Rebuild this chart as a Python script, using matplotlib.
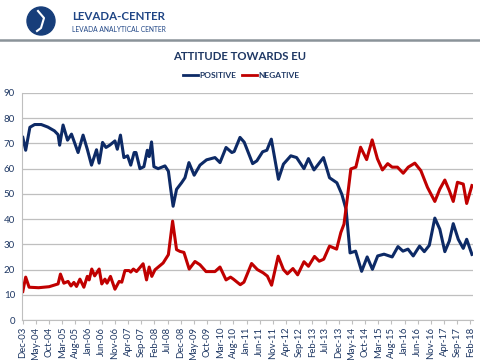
import matplotlib
matplotlib.use("Agg")
import matplotlib.pyplot as plt
from matplotlib.lines import Line2D
from matplotlib.patches import Ellipse

# ── Data (month offsets from Dec-03, values in %) ────────────────────────────
pos_months = [0, 1.1, 2.7, 4.5, 7, 9.5, 12, 13.4, 14, 15.3, 17, 18.5, 21, 22.9,
              24.5, 26.1, 28, 29, 30.3, 31.6, 33, 35, 35.9, 37.1, 38.4, 39.8,
              41, 42.3, 43, 44.5, 46, 47.3, 48, 48.9, 49.8, 51.4, 54, 55.3,
              56.2, 57.1, 58.4, 60.3, 61.6, 63.1, 65.1, 67.3, 69.8, 73, 74.9,
              77.2, 79.4, 80.3, 82.5, 84.1, 87.3, 88.9, 91.1, 92.7, 94.4, 97.1,
              99, 101.8, 104, 106.8, 108.5, 110.6, 114.2, 116.5, 119.3, 121.2,
              122.8, 124.3, 126.4, 128.7, 130.8, 132.8, 134.8, 137.2, 140.3,
              142.5, 144.4, 146.3, 148.3, 150.7, 152.5, 154.4, 156.5, 158.4,
              160.3, 162, 163.5, 165.4, 167.3, 168.6, 170.6]
pos_values = [72.4, 67.3, 76.4, 77.5, 77.5, 76.5, 75, 73.5, 69.3, 77.3, 71.3,
              73.7, 66.4, 73.3, 67.7, 61.4, 67.5, 62.2, 70.4, 68.4, 69.3, 71,
              67.7, 73.3, 64.4, 65.1, 61.4, 66.4, 66.4, 60, 60.8, 67.3, 64.8,
              70.6, 60.8, 60, 61.1, 59, 51.8, 45.1, 51.8, 54.4, 56.4, 62.4,
              57.4, 61.4, 63.5, 64.4, 62.4, 68.4, 66.4, 66.8, 72.4, 70.5, 62,
              63.1, 66.7, 67.3, 71.7, 55.8, 61.8, 65.1, 64.4, 60, 64, 59.5,
              64.4, 56.4, 54.4, 49.8, 43.8, 26.6, 27.3, 19.3, 25, 20.1, 25.4,
              26.1, 25, 29.1, 27.3, 28.1, 25.4, 29.3, 27.1, 29.6, 40.4, 36,
              27.1, 31.3, 38.2, 32, 28.4, 32, 26]

neg_months = [0, 1.1, 2.4, 6, 10, 13.4, 14.3, 15.6, 17.2, 18.3, 19.4, 20.4,
              21.7, 23.2, 24.5, 25.2, 26.2, 27.3, 29, 30, 31.2, 32, 33.3, 35,
              36.6, 37.6, 38.8, 40.4, 41, 42, 43.2, 45.7, 47, 48, 49, 50.2,
              53.3, 55.3, 56.9, 58.4, 59.7, 61.2, 63.2, 65.4, 67.3, 69.6, 73,
              74.9, 77.2, 78.9, 80, 82.6, 84, 86.9, 89.1, 91.3, 92.9, 94.5,
              97, 99, 100.5, 102.6, 104.4, 106.8, 108.5, 110.8, 112.6, 114.3,
              116.5, 119.2, 120.8, 122, 123.3, 124.6, 126.5, 128.3, 130.6,
              132.7, 134.7, 136.6, 138.6, 140.3, 142.3, 144.5, 146.4, 148.9,
              151.2, 153.7, 156.5, 158.4, 160.3, 162, 163.5, 165.1, 167.3,
              168.6, 170.6]
neg_values = [11.3, 17, 13, 12.8, 13.2, 14.3, 18.2, 14.6, 15.3, 13.5, 14.9,
              13.3, 16.2, 13, 17.3, 15.9, 20.2, 17.5, 20.2, 14.3, 16.2, 14.6,
              17.3, 12.2, 15.3, 15, 19.6, 19.6, 19, 20.2, 19.2, 22.3, 15.9, 21,
              17.3, 19.9, 22.6, 25.9, 39.2, 27.9, 27.2, 26.8, 20.2, 23.2, 21.9,
              19.2, 19.2, 21, 15.9, 17, 16.2, 14, 15, 22.4, 20, 18.7, 17.4,
              13.8, 25.3, 20, 18.3, 20.4, 17.9, 23.1, 21.3, 25.2, 23.3, 24.1,
              29.3, 28.1, 34.7, 38, 48.6, 59.9, 60.6, 68.5, 63.6, 71.4, 63.9,
              59.5, 62, 60.6, 60.6, 58.2, 60.6, 62.2, 59.2, 52.6, 47, 51.9,
              55.5, 51.3, 47, 54.6, 53.9, 46.2, 53.3]

tick_months = list(range(0, 171, 5))
tick_labels = ["Dec-03", "May-04", "Oct-04", "Mar-05", "Aug-05", "Jan-06",
               "Jun-06", "Nov-06", "Apr-07", "Sep-07", "Feb-08", "Jul-08",
               "Dec-08", "May-09", "Oct-09", "Mar-10", "Aug-10", "Jan-11",
               "Jun-11", "Nov-11", "Apr-12", "Sep-12", "Feb-13", "Jul-13",
               "Dec-13", "May-14", "Oct-14", "Mar-15", "Aug-15", "Jan-16",
               "Jun-16", "Nov-16", "Apr-17", "Sep-17", "Feb-18"]

C_POS = "#0d2a66"
C_NEG = "#c00000"
C_TXT = "#1f3864"
C_GRID = "#bfbfbf"

plt.rcParams["font.family"] = ["Lato", "DejaVu Sans"]

W, H = 480, 360
fig = plt.figure(figsize=(4.8, 3.6), dpi=100)


def fx(px):
    return px / W


def fy(py):
    return 1 - py / H


# ── Header ───────────────────────────────────────────────────────────────────
fig.add_artist(Ellipse((fx(41), fy(21)), 28 / W, 28 / H, color="#173e7a",
                       transform=fig.transFigure))
fig.add_artist(Line2D([fx(38), fx(44), fx(41), fx(37)],
                      [fy(11), fy(18), fy(28), fy(31)], color="white", lw=1.5,
                      transform=fig.transFigure))
fig.text(fx(72), fy(16), "LEVADA-CENTER", fontsize=8.3, fontweight="bold",
         color="#1f4585", va="center", ha="left")
fig.text(fx(72), fy(29), "LEVADA ANALYTICAL CENTER", fontsize=4.8,
         color="#1f4585", va="center", ha="left")
fig.add_artist(Line2D([0, 1], [fy(40), fy(40)], color="#8a9399", lw=1.8,
                      transform=fig.transFigure))

fig.text(0.5, fy(56), "ATTITUDE TOWARDS EU", fontsize=8.2, fontweight="bold",
         color=C_TXT, ha="center", va="center")

# legend (manual, centred like the original)
fig.add_artist(Line2D([fx(183), fx(198)], [fy(75), fy(75)], color=C_POS,
                      lw=2, transform=fig.transFigure))
fig.text(fx(199), fy(75), "POSITIVE", fontsize=6, color=C_TXT,
         fontweight="bold", va="center", ha="left")
fig.add_artist(Line2D([fx(242), fx(257)], [fy(75), fy(75)], color=C_NEG,
                      lw=2, transform=fig.transFigure))
fig.text(fx(258), fy(75), "NEGATIVE", fontsize=6, color=C_TXT,
         fontweight="bold", va="center", ha="left")

# ── Plot ─────────────────────────────────────────────────────────────────────
ax = fig.add_axes([fx(22), fy(320), (473 - 22) / W, (320 - 93) / H])
ax.plot(pos_months, pos_values, color=C_POS, lw=2.2, solid_joinstyle="round")
ax.plot(neg_months, neg_values, color=C_NEG, lw=2.2, solid_joinstyle="round")

ax.set_ylim(0, 90)
ax.set_xlim(-0.3, 171)
ax.set_yticks(range(0, 91, 10))
ax.set_xticks(tick_months)
ax.set_xticklabels(tick_labels, rotation=90)
ax.grid(axis="y", color=C_GRID, lw=0.9)
ax.set_axisbelow(True)
for side in ["top", "right"]:
    ax.spines[side].set_visible(False)
ax.spines["left"].set_color(C_GRID)
ax.spines["bottom"].set_color(C_GRID)
ax.tick_params(axis="y", length=0, pad=5, labelsize=7, labelcolor=C_TXT)
ax.tick_params(axis="x", length=3, color=C_GRID, pad=2, labelsize=6.8,
               labelcolor=C_TXT)

fig.savefig("out.png", dpi=100)
